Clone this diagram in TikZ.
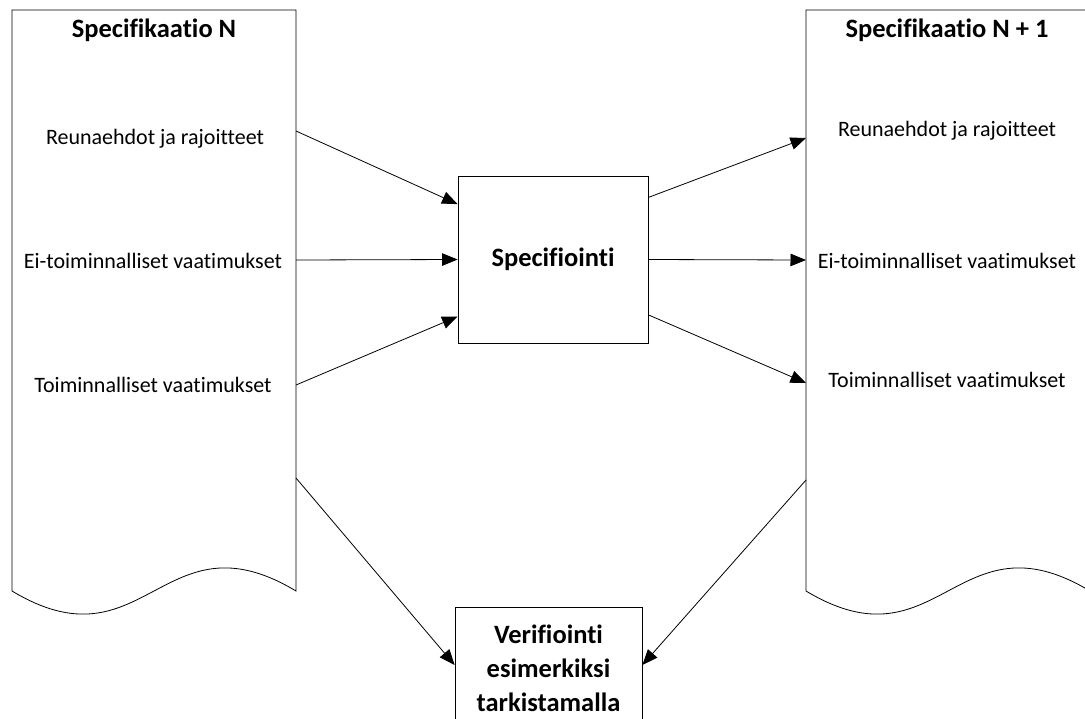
\documentclass[tikz,border=0pt]{standalone}
\usepackage{fontspec}
\setmainfont[Ligatures={NoCommon,NoRare}]{Carlito}
\usetikzlibrary{arrows.meta,calc}
\begin{document}
\begin{tikzpicture}[x=1pt,y=-1pt,
  line width=0.8pt,
  arr/.style={-{Triangle[length=15.5pt,width=12.5pt]}},
  doctitle/.style={font=\bfseries\fontsize{26.5}{30}\selectfont, anchor=center},
  item/.style={font=\fontsize{22}{26}\selectfont, anchor=center},
  procbox/.style={draw, fill=white, font=\bfseries\fontsize{26.5}{34}\selectfont, align=center}]
\useasboundingbox (0,0) rectangle (1085,718);
\clip (0,0) rectangle (1085,718);
\fill[white] (0,0) rectangle (1085,718);

% document shapes with wavy bottom
\newcommand{\docshape}[1]{%
  \draw[shift={(#1,0)}] (12,10) -- (296,10) -- (296,591)
    .. controls (163,511) and (145,671) .. (12,591) -- cycle;}
\docshape{0}
\docshape{794}

% left document texts
\node[doctitle] (tL) at (154,30) {Specifikaatio N};
\node[item] (rL) at (155,139) {Reunaehdot ja rajoitteet};
\node[item] (eL) at (153,261) {Ei-toiminnalliset vaatimukset};
\node[item] (fL) at (153,385) {Toiminnalliset vaatimukset};

% right document texts
\node[doctitle] (tR) at (947,30) {Specifikaatio N + 1};
\node[item] (rR) at (947,131) {Reunaehdot ja rajoitteet};
\node[item] (eR) at (947,261) {Ei-toiminnalliset vaatimukset};
\node[item] (fR) at (947,380) {Toiminnalliset vaatimukset};

% process boxes
\node[procbox, minimum width=190pt, minimum height=167pt] (spec) at (553,259.5) {Specifiointi};
\node[procbox, minimum width=187pt, minimum height=122pt, inner sep=0pt] (verif) at (548.5,668)
  {Verifiointi\\esimerkiksi\\tarkistamalla};

% connector end points on the document edges
\coordinate (l1) at (296,131);
\coordinate (l2) at (296,260);
\coordinate (l3) at (296,385);
\coordinate (l4) at (296,478);
\coordinate (r1) at (806,138);
\coordinate (r2) at (806,260);
\coordinate (r3) at (806,383);
\coordinate (r4) at (806,480);

% inputs to specification
\draw[arr] (l1) -- ($(spec.north west)!0.17!(spec.south west)$);
\draw[arr] (l2) -- (spec.west);
\draw[arr] (l3) -- ($(spec.north west)!0.84!(spec.south west)$);

% outputs of specification
\draw[arr] ($(spec.north east)!0.13!(spec.south east)$) -- (r1);
\draw[arr] (spec.east) -- (r2);
\draw[arr] ($(spec.north east)!0.83!(spec.south east)$) -- (r3);

% verification
\draw[arr] (l4) -- ([yshift=3pt]verif.west);
\draw[arr] (r4) -- ([yshift=3pt]verif.east);
\end{tikzpicture}
\end{document}
